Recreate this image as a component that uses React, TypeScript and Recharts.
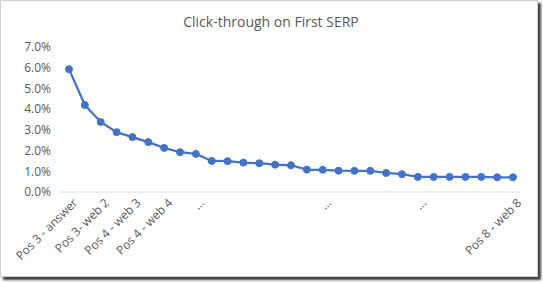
import { LineChart, Line, XAxis, YAxis } from 'recharts'

// Klickfrekvens per position på första SERP (procent)
const positions = [
  'Pos 3 - answer', '', 'Pos 3- web 2', '', 'Pos 4 - web 3', '', 'Pos 4 - web 4', '', '...', '',
  '', '', '', '', '', '', '...', '', '', '',
  '', '', '...', '', '', '', '', '', 'Pos 8 - web 8',
]
const ctr = [
  5.93, 4.2, 3.38, 2.89, 2.65, 2.41, 2.13, 1.92, 1.84, 1.5,
  1.49, 1.42, 1.39, 1.32, 1.29, 1.08, 1.07, 1.03, 1.02, 1.02,
  0.92, 0.86, 0.73, 0.73, 0.73, 0.73, 0.73, 0.71, 0.71,
]
const yTicks = [0, 1, 2, 3, 4, 5, 6, 7]

const FONT = '"Open Sans", "Noto Sans", sans-serif'
const GRAY = '#595959'
const BLUE = '#4472C4'

const data = positions.map((name, i) => ({ id: i, name, ctr: ctr[i] }))

function RotatedTick({ x, y, payload }: any) {
  const label = positions[payload.value] ?? ''
  if (!label) return null
  return (
    <g transform={`translate(${x},${y})`}>
      <text x={4} y={0} dy={9} textAnchor="end" transform="rotate(-45)" fill={GRAY} fontSize={12} fontFamily={FONT}>
        {label}
      </text>
    </g>
  )
}

export default function App() {
  return (
    <div
      style={{
        position: 'absolute',
        left: 0,
        top: 0,
        width: 536,
        height: 275,
        border: '1px solid #d0d0d0',
        background: '#fff',
        boxShadow: '3px 3px 2px #444',
      }}
    >
      <div
        style={{
          position: 'absolute',
          top: 11,
          left: 0,
          width: 540,
          textAlign: 'center',
          fontFamily: FONT,
          fontSize: 14,
          color: GRAY,
        }}
      >
        Click-through on First SERP
      </div>
      <LineChart width={536} height={275} data={data} margin={{ top: 46, right: 16, left: 0, bottom: 0 }}>
        <XAxis
          dataKey="id"
          type="category"
          interval={0}
          height={84}
          padding={{ left: 9, right: 8 }}
          axisLine={{ stroke: '#d9d9d9' }}
          tickLine={false}
          tickSize={0}
          tickMargin={8}
          tick={<RotatedTick />}
        />
        <YAxis
          domain={[0, 7]}
          ticks={yTicks}
          width={59}
          axisLine={false}
          tickLine={false}
          tickSize={0}
          tickMargin={9}
          tickFormatter={(v: number) => `${v.toFixed(1)}%`}
          tick={{ fill: GRAY, fontSize: 12, fontFamily: FONT }}
        />
        <Line
          type="linear"
          dataKey="ctr"
          stroke={BLUE}
          strokeWidth={2.25}
          dot={{ r: 3.5, fill: BLUE, stroke: BLUE, strokeWidth: 1 }}
          isAnimationActive={false}
        />
      </LineChart>
    </div>
  )
}
